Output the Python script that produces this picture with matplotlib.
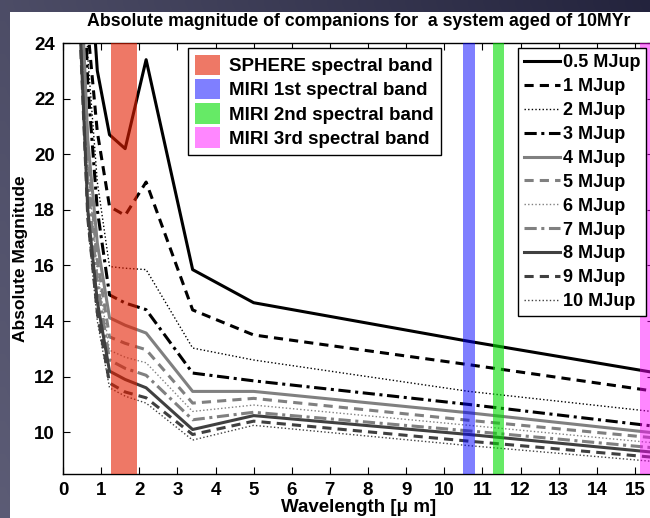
"""
Absolute magnitude of young giant planets (10 Myr) versus wavelength,
with the SPHERE and MIRI coronagraphic bands overlaid.
"""

import numpy as np
import matplotlib.pyplot as plt
from matplotlib.patches import Patch, Rectangle

plt.rcParams['font.family'] = ['Liberation Sans', 'DejaVu Sans']
plt.rcParams['font.weight'] = 'bold'

# wavelength sampling of the model curves [micron]
WAVELENGTHS = [0.45, 0.65, 0.9, 1.22, 1.63, 2.18, 3.4, 5.0, 10.65, 15.5]

MASS_LABELS = ['0.5 MJup', '1 MJup', '2 MJup', '3 MJup', '4 MJup', '5 MJup',
               '6 MJup', '7 MJup', '8 MJup', '9 MJup', '10 MJup']

# absolute magnitudes, one list per mass
MAG_0p5 = [35.0, 28.0, 23.0, 20.7, 20.2, 23.4, 15.85, 14.66, 13.27, 12.15]
MAG_1 = [32.0, 24.5, 20.8, 18.12, 17.8, 19.0, 14.4, 13.5, 12.43, 11.48]
MAG_2 = [31.0, 23.5, 19.0, 15.96, 15.9, 15.85, 13.03, 12.6, 11.47, 10.74]
MAG_3 = [30.0, 22.5, 18.0, 14.94, 14.65, 14.41, 12.13, 11.85, 11.0, 10.22]
MAG_4 = [27.0, 20.5, 16.8, 14.12, 13.85, 13.57, 11.47, 11.47, 10.7, 9.98]
MAG_5 = [26.5, 20.0, 16.2, 13.43, 13.2, 12.97, 11.05, 11.22, 10.43, 9.8]
MAG_6 = [26.0, 19.5, 15.8, 12.95, 12.7, 12.5, 10.75, 10.98, 10.25, 9.62]
MAG_7 = [25.5, 19.0, 15.4, 12.6, 12.3, 12.05, 10.45, 10.72, 10.05, 9.44]
MAG_8 = [24.5, 18.0, 14.7, 12.2, 11.9, 11.6, 10.1, 10.6, 9.92, 9.28]
MAG_9 = [24.3, 17.7, 14.3, 11.77, 11.45, 11.24, 9.92, 10.4, 9.68, 9.1]
MAG_10 = [24.2, 17.5, 14.0, 11.6, 11.3, 11.05, 9.72, 10.25, 9.52, 8.95]

ALL_MAGS = [MAG_0p5, MAG_1, MAG_2, MAG_3, MAG_4, MAG_5,
            MAG_6, MAG_7, MAG_8, MAG_9, MAG_10]

# instrument bands [micron]
BAND_LABELS = ['SPHERE spectral band', 'MIRI 1st spectral band',
               'MIRI 2nd spectral band', 'MIRI 3rd spectral band']
BAND_MIN = [1.26, 10.5, 11.27, 15.13]
BAND_MAX = [1.93, 10.8, 11.57, 15.9]
BAND_COLORS = ['#E41E00', '#0000FF', '#00DC00', '#FF00FF']
BAND_ALPHA = [0.6, 0.5, 0.6, 0.47]

LINE_COLORS = ['black'] * 4 + ['#808080'] * 4 + ['#404040'] * 3
DOT = (0, (1, 1.6))
LINE_STYLES = ['-', (0, (3, 2)), DOT, (0, (4, 1.5, 1, 1.5)),
               '-', (0, (3, 2)), DOT, (0, (4, 1.5, 1, 1.5)),
               '-', (0, (3, 2)), DOT]
LINE_WIDTHS = [2.2, 2.2, 1.0, 2.2] * 2 + [2.2, 2.2, 1.0]

W, H = 650, 518
fig = plt.figure(figsize=(W / 100, H / 100), dpi=100)

# slide background behind the white plot area
bg = fig.add_axes([0, 0, 1, 1], zorder=-20)
gx, gy = np.meshgrid(np.linspace(0, 1, 64), np.linspace(0, 1, 64))
shade = 0.36 - 0.16 * gx - 0.06 * (1 - gy)
bg.imshow(np.dstack([shade, shade, shade + 0.1]).clip(0, 1), extent=(0, 1, 0, 1),
          aspect='auto', origin='upper', interpolation='bilinear')
bg.add_patch(Rectangle((10 / W, 0), 1, 1 - 12 / H, transform=bg.transAxes,
                       facecolor='white', edgecolor='none'))
bg.set_axis_off()

ax = fig.add_axes([63 / W, 1 - 474 / H, 591 / W, 431 / H])

for mags, label, c, ls, lw in zip(ALL_MAGS, MASS_LABELS, LINE_COLORS,
                                  LINE_STYLES, LINE_WIDTHS):
    ax.plot(WAVELENGTHS, mags, color=c, linestyle=ls, linewidth=lw,
            label=label, zorder=2)

band_handles = []
for lo, hi, c, a, label in zip(BAND_MIN, BAND_MAX, BAND_COLORS, BAND_ALPHA, BAND_LABELS):
    ax.axvspan(lo, hi, color=c, alpha=a, linewidth=0, zorder=3)
    band_handles.append(Patch(facecolor=c, alpha=a, edgecolor='none', label=label))

ax.set_xlim(0, 15.5)
ax.set_ylim(8.5, 24)
ax.set_xticks(range(0, 16))
ax.set_yticks(range(10, 25, 2))
ax.tick_params(direction='in', top=True, right=True, labelsize=13.5,
               length=5, width=0.8, pad=6)
for spine in ax.spines.values():
    spine.set_linewidth(1.0)

ax.set_xlabel('Wavelength [\u03bc m]', fontsize=13.5, fontweight='bold', labelpad=0)
ax.set_ylabel('Absolute Magnitude', fontsize=12.5, fontweight='bold', labelpad=4)
ax.set_title('Absolute magnitude of companions for  a system aged of 10MYr',
             fontsize=12.8, fontweight='bold', pad=12)

leg_lines = ax.legend(loc='upper left', bbox_to_anchor=(0.77, 0.988),
                      fontsize=13, frameon=True, fancybox=False,
                      edgecolor='black', framealpha=1, handlelength=1.95,
                      handletextpad=0.17, labelspacing=0.38, borderpad=0.35,
                      borderaxespad=0)
leg_lines.get_frame().set_linewidth(1.0)
leg_lines.set_zorder(5)
ax.add_artist(leg_lines)

leg_bands = ax.legend(handles=band_handles, loc='upper left',
                      bbox_to_anchor=(0.212, 0.988), fontsize=13.5,
                      frameon=True, fancybox=False, edgecolor='black',
                      framealpha=1, handlelength=1.34, handleheight=1.3,
                      handletextpad=0.5, labelspacing=0.2, borderpad=0.35,
                      borderaxespad=0)
leg_bands.get_frame().set_linewidth(1.0)
leg_bands.set_zorder(5)

fig.savefig('out.png', dpi=100)
